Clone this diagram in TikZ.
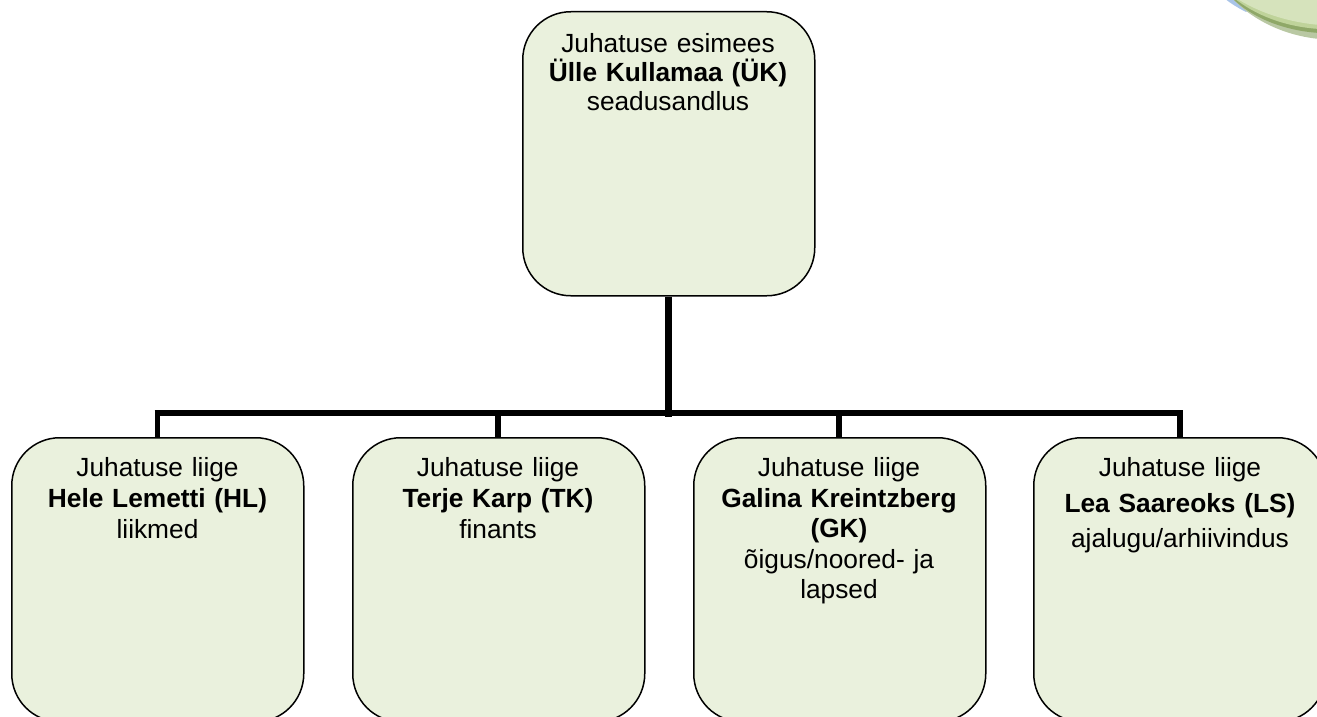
\documentclass[tikz,border=0pt]{standalone}
\usepackage{fontspec}
\setmainfont{Liberation Sans}
\definecolor{boxfill}{HTML}{EAF1DD}
\definecolor{blobA}{HTML}{D6E3BC}
\definecolor{blobB}{HTML}{BFD39A}
\definecolor{blobC}{HTML}{8FA868}
\definecolor{blobD}{HTML}{B9C8A3}
\definecolor{blobE}{HTML}{A9C4E8}
\tikzset{
  boxn/.style={draw=black, fill=boxfill, line width=1.5pt, rounded corners=48pt, minimum width=292pt, minimum height=284pt, inner sep=0pt, anchor=north west},
  txt/.style={align=center, anchor=north, inner sep=0pt, font=\fontsize{26.3pt}{#1}\selectfont, text width=280pt},
  conn/.style={draw=black, line width=6.6pt},
  stub/.style={draw=black, line width=5.6pt}
}
\begin{document}
\begin{tikzpicture}[x=1pt,y=-1pt]
\useasboundingbox (0,0) rectangle (1317,717);
\begin{scope}
\clip (0,0) rectangle (1317,717);
% decorative corner shape
\fill[blobE] (1224,-2) .. controls (1230,3) and (1238,8) .. (1246,12) -- (1260,-2) -- cycle;
\fill[blobD] (1232,-2) .. controls (1252,20) and (1285,36) .. (1320,39) -- (1320,-2) -- cycle;
\fill[blobC] (1232,-2) .. controls (1252,18) and (1285,31) .. (1320,33) -- (1320,-2) -- cycle;
\fill[blobB] (1234,-2) .. controls (1255,15) and (1285,27) .. (1320,29) -- (1320,-2) -- cycle;
\fill[blobA] (1236,-2) .. controls (1256,11) and (1285,22) .. (1320,25) -- (1320,-2) -- cycle;
\node[boxn] (top) at (522,11) {};
\node[boxn] (a) at (11,437) {};
\node[boxn] (b) at (352,437) {};
\node[boxn] (c) at (693,437) {};
\node[boxn] (d) at (1033,437) {};
\coordinate (bus) at (668.3,416.5);
\coordinate (ca) at (157.5,413);
\coordinate (cb) at (498,413);
\coordinate (cc) at (839,413);
\coordinate (cd) at (1180,413);
\draw[conn] (top.south -| bus) -- (bus);
\draw[draw=black,line width=6.4pt] ([xshift=-2.8pt]ca) -- ([xshift=2.8pt]cd);
\draw[stub] (ca) -- (ca |- a.north);
\draw[stub] (cb) -- (cb |- b.north);
\draw[stub] (cc) -- (cc |- c.north);
\draw[stub] (cd) -- (cd |- d.north);
\node[txt=29.2pt] (ttop) at (668,33) {Juhatuse esimees\\\textbf{Ülle Kullamaa (ÜK)}\\seadusandlus};
\node[txt=30.8pt] (ta) at (157.5,457.7) {Juhatuse liige\\\textbf{Hele Lemetti (HL)}\\liikmed};
\node[txt=30.8pt] (tb) at (498,457.7) {Juhatuse liige\\\textbf{Terje Karp (TK)}\\finants};
\node[txt=30.4pt] (tc) at (839,457.7) {Juhatuse liige\\\textbf{Galina Kreintzberg}\\\textbf{(GK)}\\õigus/noored- ja\\lapsed};
\node[txt=35.5pt] (td) at (1180,457.7) {Juhatuse liige\\\textbf{Lea Saareoks (LS)}\\ajalugu/arhiivindus};
\end{scope}
\end{tikzpicture}
\end{document}
